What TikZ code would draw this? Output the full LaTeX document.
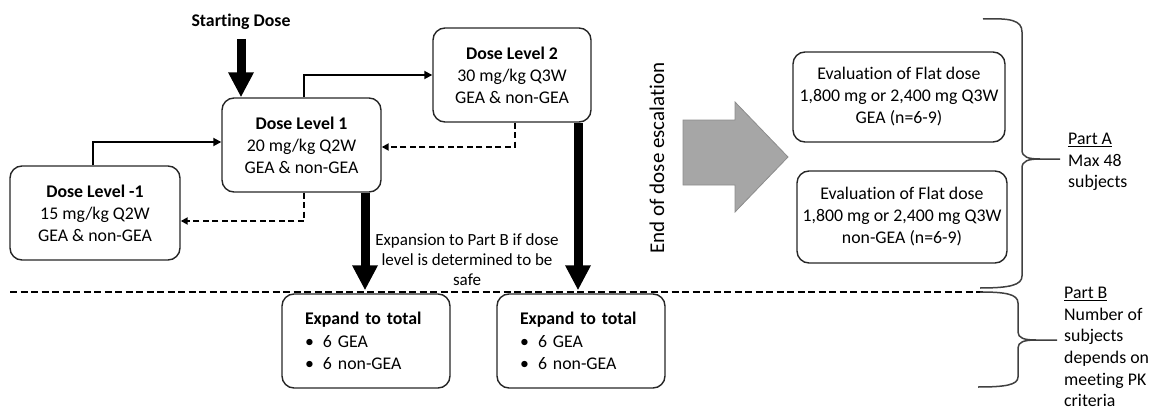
\documentclass[tikz,border=0pt]{standalone}
\usepackage{fontspec}
\setmainfont{Carlito}[Ligatures=NoCommon]
\usetikzlibrary{arrows.meta}
\begin{document}
\begin{tikzpicture}[x=1pt,y=-1pt,
  box/.style={draw=black!85, line width=1.4pt, rounded corners=12pt, align=center, inner sep=0pt, font=\fontsize{17.8}{22}\selectfont},
  lbox/.style={box, align=left},
  txt/.style={align=center, inner sep=0pt, font=\fontsize{17.8}{22}\selectfont},
  bigarrow/.style={line width=9pt, -{Triangle[length=25pt,width=24pt]}},
  conn/.style={line width=1.8pt, -{Triangle[length=8pt,width=8pt]}},
  dconn/.style={line width=1.8pt, dash pattern=on 6pt off 3.5pt, -{Triangle[length=7pt,width=7pt]}},
  brace/.style={draw=black!75, line width=1.5pt}
]
\useasboundingbox (0,0) rectangle (1152,412);

% nodes
\node[txt, font=\fontsize{17.8}{22}\selectfont\bfseries] (start) at (241,22) {Starting Dose};
\node[box, minimum width=159pt, minimum height=94pt] (dl1) at (301.5,145) {\textbf{Dose Level 1}\\20 mg/kg Q2W\\GEA \& non-GEA};
\node[box, minimum width=158pt, minimum height=94pt] (dl2) at (512,75) {\textbf{Dose Level 2}\\30 mg/kg Q3W\\GEA \& non-GEA};
\node[box, minimum width=170pt, minimum height=94pt] (dlm1) at (95,213) {\textbf{Dose Level -1}\\15 mg/kg Q2W\\GEA \& non-GEA};
\node[lbox, minimum width=168pt, minimum height=94pt, text width=122pt] (exp1) at (366,341) {\textbf{Expand to total}\\[1pt]\makebox[18pt][l]{\textbullet}6 GEA\\\makebox[18pt][l]{\textbullet}6 non-GEA};
\node[lbox, minimum width=168pt, minimum height=94pt, text width=122pt] (exp2) at (581,341) {\textbf{Expand to total}\\[1pt]\makebox[18pt][l]{\textbullet}6 GEA\\\makebox[18pt][l]{\textbullet}6 non-GEA};
\node[box, minimum width=212pt, minimum height=90pt] (eval1) at (899,97) {Evaluation of Flat dose\\1,800 mg or 2,400 mg Q3W\\GEA (n=6-9)};
\node[box, minimum width=210pt, minimum height=92pt] (eval2) at (902,217) {Evaluation of Flat dose\\1,800 mg or 2,400 mg Q3W\\non-GEA (n=6-9)};
\node[txt, font=\fontsize{21}{24}\selectfont, rotate=90] (esc) at (657,158) {End of dose escalation};
\node[txt, font=\fontsize{17}{20}\selectfont] (expl) at (467,260) {Expansion to Part B if dose\\level is determined to be\\safe};
\node[txt, align=left, anchor=west, font=\fontsize{17.8}{21.5}\selectfont] (parta) at (1068,162) {\underline{Part A}\\Max 48\\subjects};
\node[txt, align=left, anchor=west, font=\fontsize{17.8}{21.6}\selectfont] (partb) at (1064,347) {\underline{Part B}\\Number of\\subjects\\depends on\\meeting PK\\criteria};

% grey block arrow
\filldraw[fill=black!35, draw=black!45, line width=0.8pt] (683,120) -- (735,120) -- (735,102) -- (788,157) -- (735,212) -- (735,185) -- (683,185) -- cycle;

% dashed separator
\coordinate (sepl) at (10,292);
\coordinate (sepr) at (983,292);
\draw[line width=2pt, dash pattern=on 7pt off 3.5pt] (sepl) -- (sepr);

% connectors
\draw[bigarrow] ([yshift=-9pt]start.south) -- (start.south |- dl1.north);
\draw[bigarrow] ([xshift=-1pt]exp1.north |- dl1.south) -- ([xshift=-1pt,yshift=3pt]exp1.north);
\draw[bigarrow] ([xshift=-3pt]exp2.north |- dl2.south) -- ([xshift=-3pt,yshift=3pt]exp2.north);
\draw[conn] ([xshift=-2pt]dlm1.north) |- ([yshift=3pt]dl1.west);
\draw[conn] ([xshift=2.5pt]dl1.north) |- (dl2.west);
\draw[dconn] ([xshift=3pt]dl2.south) |- ([yshift=-2pt]dl1.east);
\draw[dconn] ([xshift=2.5pt]dl1.south) |- ([yshift=-8pt]dlm1.east);

% braces
\draw[brace] (983,19) .. controls (1010,18) and (1022,20) .. (1022,32) -- (1022,150)
  .. controls (1022,157) and (1028,159) .. (1040,159) -- (1060,159);
\draw[brace] (1040,159) .. controls (1028,159) and (1022,161) .. (1022,168) -- (1022,276)
  .. controls (1022,285) and (1010,288) .. (980,288);
\draw[brace] (980,292) .. controls (1005,292) and (1018,294) .. (1018,303) -- (1018,332)
  .. controls (1018,338) and (1024,340) .. (1036,340) -- (1057,340);
\draw[brace] (1036,340) .. controls (1024,340) and (1018,342) .. (1018,348) -- (1018,377)
  .. controls (1018,385) and (1005,387) .. (978,387);
\end{tikzpicture}
\end{document}
